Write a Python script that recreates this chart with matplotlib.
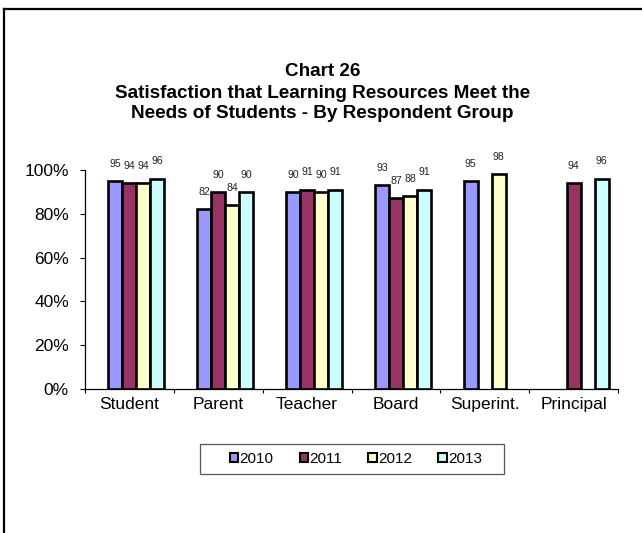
import numpy as np
import matplotlib
matplotlib.use("Agg")
import matplotlib.pyplot as plt
from matplotlib.patches import Rectangle
from matplotlib.ticker import FixedLocator, FuncFormatter

plt.rcParams['font.family'] = ['Liberation Sans', 'DejaVu Sans']

# Respondent groups and yearly satisfaction (%); NaN = group not surveyed that year
groups = ["Student", "Parent", "Teacher", "Board", "Superint.", "Principal"]
years = ["2010", "2011", "2012", "2013"]
v2010 = [95, 82, 90, 93, 95, np.nan]
v2011 = [94, 90, 91, 87, np.nan, 94]
v2012 = [94, 84, 90, 88, 98, np.nan]
v2013 = [96, 90, 91, 91, np.nan, 96]
series = [v2010, v2011, v2012, v2013]
colors = ["#9999FF", "#993366", "#FFFFCC", "#CCFFFF"]
y_ticks = [0, 20, 40, 60, 80, 100]

W, H = 642, 533
fig = plt.figure(figsize=(W / 100, H / 100), dpi=100)

# plot area
x0, x1, ytop, ybot = 85, 618, 170, 389
ax = fig.add_axes([x0 / W, 1 - ybot / H, (x1 - x0) / W, (ybot - ytop) / H])

x = np.arange(len(groups))
bw = 0.1576  # five slots per group, first slot left empty
for i, (vals, col, yr) in enumerate(zip(series, colors, years)):
    pos = x + (i - 1) * bw
    vals = np.asarray(vals, dtype=float)
    ok = ~np.isnan(vals)
    ax.bar(pos[ok], vals[ok], width=bw, color=col, edgecolor="black",
           linewidth=1.9, label=yr, zorder=3)
    for px, v in zip(pos[ok], vals[ok]):
        ax.annotate(f"{int(v)}", (px, v), xytext=(0, 12.5), textcoords="offset points",
                    ha="center", va="center", fontsize=7.6, color="#222222")

ax.set_xlim(-0.5, len(groups) - 0.5)
ax.set_ylim(0, 100)
ax.yaxis.set_major_locator(FixedLocator(y_ticks))
ax.yaxis.set_major_formatter(FuncFormatter(lambda v, p: f"{int(v)}%"))
ax.tick_params(axis="y", direction="out", length=3.6, width=0.8, pad=8,
               labelsize=12.5)

ax.set_xticks(x)
ax.set_xticklabels(groups)
ax.set_xticks(np.arange(-0.5, len(groups)), minor=True)
ax.tick_params(axis="x", which="major", length=0, pad=6, labelsize=12.5)
ax.tick_params(axis="x", which="minor", direction="out", length=3, width=0.8)

for s in ["top", "right"]:
    ax.spines[s].set_visible(False)
for s in ["left", "bottom"]:
    ax.spines[s].set_linewidth(0.9)
    ax.spines[s].set_color("black")

# title
title_lines = ["Chart 26",
               "Satisfaction that Learning Resources Meet the",
               "Needs of Students - By Respondent Group"]
for line, yc in zip(title_lines, [72, 93, 113]):
    fig.text(0.502, 1 - yc / H, line, ha="center", va="center",
             fontsize=13.6, fontweight="bold")

# legend
handles, labels = ax.get_legend_handles_labels()
leg = fig.legend(handles, labels, loc="center", bbox_to_anchor=(356 / W, 1 - 459 / H),
                 ncol=4, frameon=False, fontsize=11, handlelength=0.55,
                 handleheight=0.55, handletextpad=0.1, columnspacing=1.7,
                 borderpad=0.2)
for h in leg.legend_handles:
    h.set_linewidth(1.5)
fig.patches.append(Rectangle((200 / W, 1 - 474 / H), 304 / W, 30 / H,
                             transform=fig.transFigure, fill=False,
                             edgecolor="#555555", linewidth=0.9))

# outer chart frame (top and left edges visible)
fig.add_artist(plt.Line2D([4 / W, 4 / W], [0, 1 - 9 / H], transform=fig.transFigure,
                          color="black", linewidth=1.6))
fig.add_artist(plt.Line2D([4 / W, 1], [1 - 9 / H, 1 - 9 / H], transform=fig.transFigure,
                          color="black", linewidth=1.6))

fig.savefig("out.png", dpi=100)
